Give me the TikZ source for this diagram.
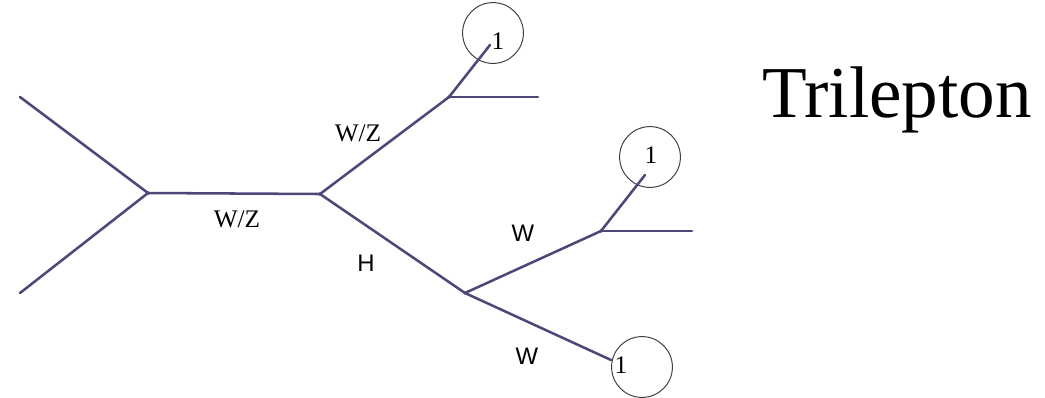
\documentclass[tikz,border=0pt]{standalone}
\usepackage{fontspec}
\setmainfont{Liberation Serif}
\setsansfont{Liberation Sans}
\usetikzlibrary{positioning, calc}
\definecolor{lineviolet}{HTML}{4E4878}

\begin{document}
\begin{tikzpicture}[x=0.025cm, y=-0.025cm,
                    vtx/.style={circle, fill=lineviolet!80!black, inner sep=0pt, minimum size=2.6pt},
                    free/.style={inner sep=0pt, minimum size=0pt},
                    lep/.style={draw=black!75, circle, line width=0.7pt, minimum size=1.52cm, inner sep=0pt},
                    digit/.style={inner sep=0pt, font=\fontsize{18}{18}\selectfont},
                    prop/.style={draw=lineviolet, line width=1.8pt, line cap=round},
                    serlab/.style={font=\fontsize{18}{18}\selectfont},
                    sanlab/.style={font=\sffamily\fontsize{17}{17}\selectfont}]
        \useasboundingbox (0,0) rectangle (1045,397);
        \node[free] (in1) at (20,97) {};
        \node[free] (in2) at (20,293) {};
        \node[vtx] (a) at (148,193) {};
        \node[vtx] (b) at (320,194) {};
        \node[vtx] (c) at (449,97) {};
        \node[vtx] (d) at (465,293) {};
        \node[vtx] (e) at (601,231) {};
        \node[free] (nu1) at (538,97) {};
        \node[free] (nu2) at (692,231) {};
        \node[free] (l1end) at (490,45) {};
        \node[free] (l2end) at (645,175) {};
        \node[free] (l3end) at (611,360) {};
        \node[lep] (l1) at (493,33) {};
        \node[lep] (l2) at (650,157) {};
        \node[lep] (l3) at (642,367) {};
        \node[digit] (n1) at (498,41) {1};
        \node[digit] (n2) at (651,155) {1};
        \node[digit] (n3) at (621,365) {1};
        \foreach \s/\t in {in1/a,in2/a,a/b,b/c,c/nu1,c/l1end,b/d,d/e,e/nu2,e/l2end,d/l3end} \draw[prop] (\s.center) -- (\t.center);
        \node[serlab] (wz1) at (237,219) {W/Z};
        \node[serlab] (wz2) at (358,133) {W/Z};
        \node[sanlab] (h) at (366,263) {H};
        \node[sanlab] (w1) at (523,233) {W};
        \node[sanlab] (w2) at (527,356) {W};
        \node[font=\fontsize{52}{52}\selectfont, anchor=base west, inner sep=0pt] (title) at (762,117) {Trilepton};
    \end{tikzpicture}
\end{document}
